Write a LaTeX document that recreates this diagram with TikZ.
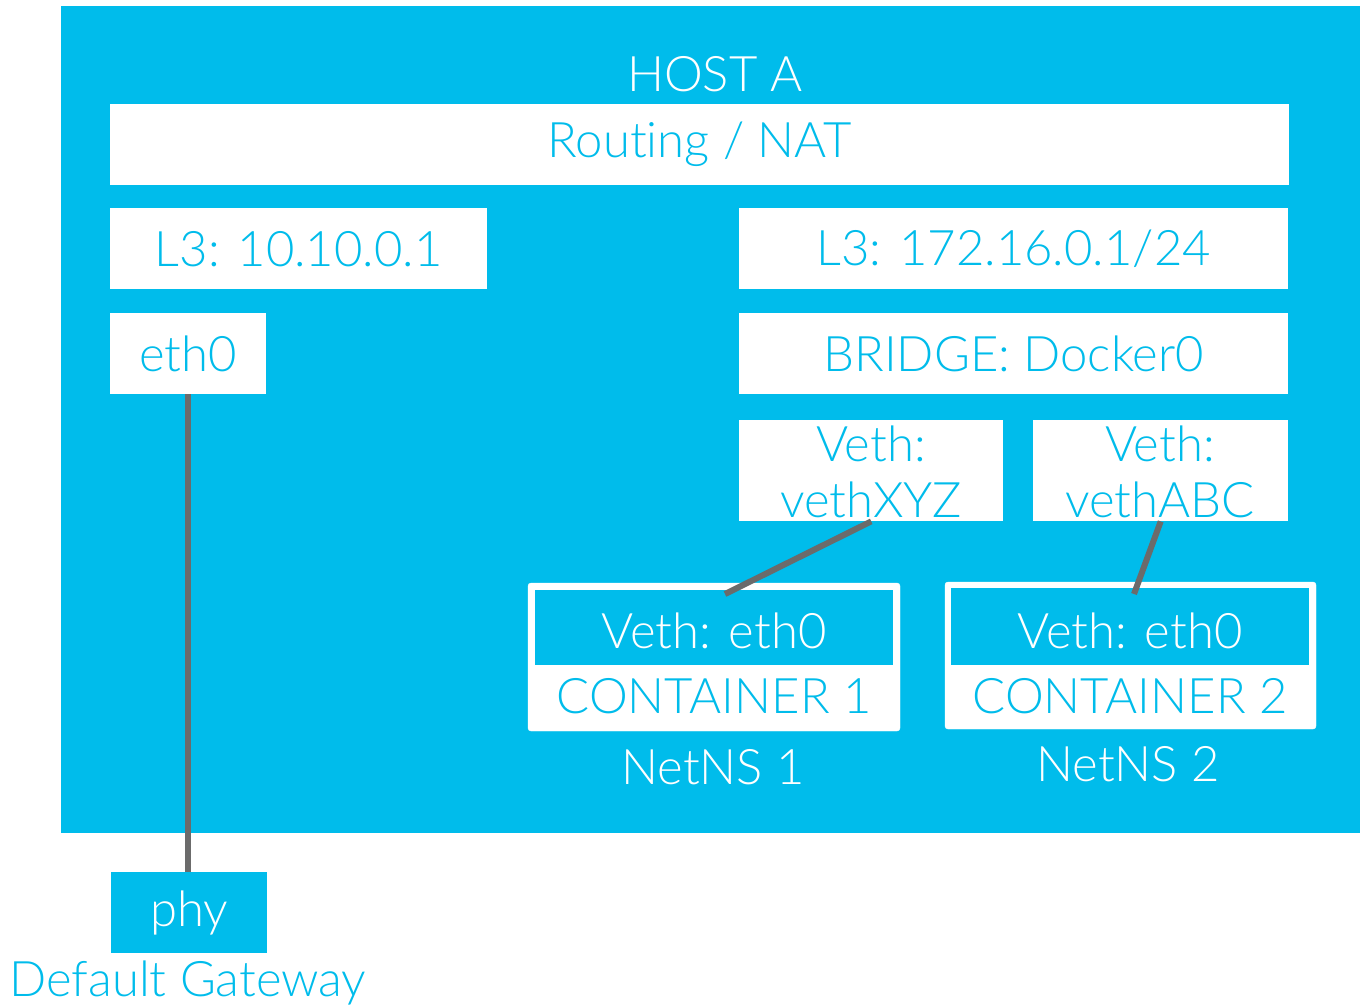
\documentclass[tikz,border=0pt]{standalone}
\usepackage{fontspec}
\setmainfont{Lato}[UprightFont={* Light},Ligatures={NoCommon}]
\definecolor{cblue}{HTML}{00BCEB}
\definecolor{cgray}{HTML}{6B6B6B}
\begin{document}
\begin{tikzpicture}[x=1pt,y=-1pt,
  wbox/.style={draw=none,fill=white,text=cblue,inner sep=0,anchor=north west,font=\fontsize{49}{60}\selectfont},
  bbox/.style={draw=none,fill=cblue,text=white,inner sep=0,anchor=north west,font=\fontsize{49}{60}\selectfont},
  btxt/.style={text=cblue,inner sep=0,font=\fontsize{49}{60}\selectfont},
  wtxt/.style={text=white,inner sep=0,font=\fontsize{49}{60}\selectfont},
  wire/.style={draw=cgray,line width=6pt}]
\useasboundingbox (0,0) rectangle (1360,1005);
\fill[cblue] (61,6) rectangle (1360,833);
\node[wtxt] (host) at (715,74) {HOST A};
\node[wbox,minimum width=1179,minimum height=81] (nat) at (110,104) {Routing / NAT};
\node[wbox,minimum width=377,minimum height=81] (l3a) at (110,208) {L3: 10.10.0.1};
\node[wbox,minimum width=156,minimum height=81] (eth) at (110,313) {eth0};
\node[wbox,minimum width=549,minimum height=81] (l3b) at (739,208) {L3: 172.16.0.1/24};
\node[wbox,minimum width=549,minimum height=81] (br) at (739,313) {BRIDGE: Docker0};
\node[wbox,minimum width=264,minimum height=101] (vx) at (739,420) {};
\node[wbox,minimum width=255,minimum height=101] (va) at (1033,420) {};
\node[btxt] (vx1) at (871,444) {Veth:};
\node[btxt] (vx2) at (871,500) {vethXYZ};
\node[btxt] (va1) at (1160,444) {Veth:};
\node[btxt] (va2) at (1160,500) {vethABC};
% containers
\draw[fill=white,draw=white,rounded corners=3pt] (528,583) rectangle (900,731);
\node[bbox,minimum width=358,minimum height=75] (c1) at (535,590) {};
\node[wtxt] (c1t) at (714,631) {Veth: eth0};
\node[btxt] (c1n) at (714,696) {CONTAINER 1};
\node[wtxt] (ns1) at (713,767) {NetNS 1};
\draw[fill=white,draw=white,rounded corners=3pt] (945,582) rectangle (1316,729);
\node[bbox,minimum width=358,minimum height=77] (c2) at (951,588) {};
\node[wtxt] (c2t) at (1130,631) {Veth: eth0};
\node[btxt] (c2n) at (1130,696) {CONTAINER 2};
\node[wtxt] (ns2) at (1128,764) {NetNS 2};
% outside
\node[bbox,minimum width=156,minimum height=81] (phy) at (111,872) {phy};
\node[btxt] (gw) at (188,983) {Default Gateway};
\coordinate (c1top) at (725,594);
\coordinate (c2top) at (1134,594);
\draw[wire] (eth.south) -- (eth.south |- phy.north);
\draw[wire] (vx.south) -- (c1top);
\draw[wire] (va.south) -- (c2top);
\end{tikzpicture}
\end{document}
